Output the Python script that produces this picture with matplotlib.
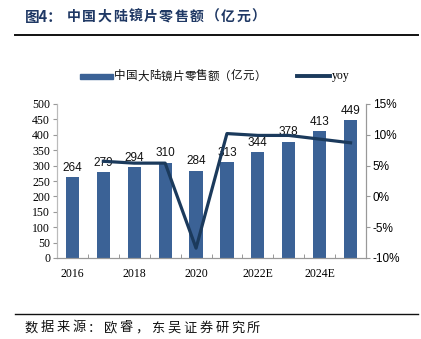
import numpy as np
import matplotlib; matplotlib.use("Agg")
import matplotlib.pyplot as plt
from matplotlib.lines import Line2D
from matplotlib.patches import Rectangle

plt.rcParams['font.family'] = ['Noto Sans CJK SC', 'DejaVu Sans']

# ─── data ────────────────────────────────────────────────────────────────────
years  = ["2016", "2017", "2018", "2019", "2020", "2021", "2022E", "2023E", "2024E", "2025E"]
sales  = [264, 279, 294, 310, 284, 313, 344, 378, 413, 449]
yoy    = [None, 5.7, 5.4, 5.4, -8.4, 10.2, 9.9, 9.9, 9.3, 8.7]
xlabels = ["2016", "", "2018", "", "2020", "", "2022E", "", "2024E", ""]

bar_c  = "#3B6296"
line_c = "#1B3A5C"
title_c = "#1F3864"

fig = plt.figure(figsize=(4.21, 3.39), dpi=100)
W, H = 421, 339

def spaced(x0, y, s, pitch, **kw):
    # place CJK characters one by one with wider spacing (pixel coords)
    for i, ch in enumerate(s):
        fig.text((x0 + i*pitch + pitch/2)/W, 1-y/H, ch, ha="center", va="center", **kw)

ax = fig.add_axes([57/W, 1-258/H, 309/W, 154/H])
ax2 = ax.twinx()

x = np.arange(len(years))
ax.bar(x, sales, width=0.43, color=bar_c, zorder=2)
for xi, v in zip(x, sales):
    ax.text(xi, v + 10, str(v), ha="center", va="bottom", fontsize=8.5,
            family="Liberation Sans", color="#111111", zorder=5)

xv = [xi for xi, v in zip(x, yoy) if v is not None]
yv = [v for v in yoy if v is not None]
ax2.plot(xv, yv, color=line_c, lw=2.3, zorder=4)

ax.set_xlim(-0.5, len(years) - 0.5)
ax.set_ylim(0, 500)
ax.set_yticks(np.arange(0, 501, 50))
ax2.set_ylim(-10, 15)
ax2.set_yticks(np.arange(-10, 16, 5))
ax2.set_yticklabels([f"{t}%" for t in range(-10, 16, 5)], family="Liberation Sans", fontsize=8.5)
ax.set_yticklabels([str(t) for t in range(0, 501, 50)], family="Liberation Serif", fontsize=8.5)

ax.set_xticks(x)
ax.set_xticklabels(xlabels, family="Liberation Serif", fontsize=8.5)
ax.tick_params(axis="x", length=0, pad=7)
ax.set_xticks(np.arange(-0.5, len(years), 1), minor=True)
ax.tick_params(axis="x", which="minor", length=3, direction="in", color="#888888")
ax.tick_params(axis="y", length=3, direction="out", color="#999999", pad=2)
ax2.tick_params(axis="y", length=3, direction="out", color="#999999", pad=2)

for a in (ax, ax2):
    a.spines["top"].set_visible(False)
    a.spines["left"].set_color("#BBBBBB")
    a.spines["right"].set_color("#999999")
    a.spines["bottom"].set_color("#999999")
ax.set_zorder(ax2.get_zorder() - 1)
ax2.patch.set_visible(False)

# legend drawn manually
fig.patches.append(Rectangle((80/W, 1-79/H), 33/W, 5/H, transform=fig.transFigure,
                             color=bar_c, figure=fig))
spaced(114, 76, "中国大陆镜片零售额（亿元）", 11.7, fontsize=8.3, color="#111111")
fig.lines.append(Line2D([297/W, 330/W], [1-76/H, 1-76/H], transform=fig.transFigure,
                        color=line_c, lw=2.8, figure=fig))
fig.text(332/W, 1-76/H, "yoy", fontsize=8.5, va="center", family="Liberation Serif")

# title and footer
fig.text(25/W, 1-17/H, "图4：", fontsize=10.5, fontweight="bold", color=title_c, va="center")
spaced(66, 17, "中国大陆镜片零售额（亿元）", 15.4, fontsize=10, fontweight="bold", color=title_c)
fig.lines.append(Line2D([15/W, 418/W], [1-35/H, 1-35/H], transform=fig.transFigure,
                        color="#111111", lw=1.4, figure=fig))
fig.lines.append(Line2D([15/W, 418/W], [1-314/H, 1-314/H], transform=fig.transFigure,
                        color="#111111", lw=1.0, figure=fig))
spaced(23, 328, "数据来源：欧睿，东吴证券研究所", 15.9, fontsize=9.5, color="#111111")

plt.savefig("out.png", dpi=100)
plt.close()
